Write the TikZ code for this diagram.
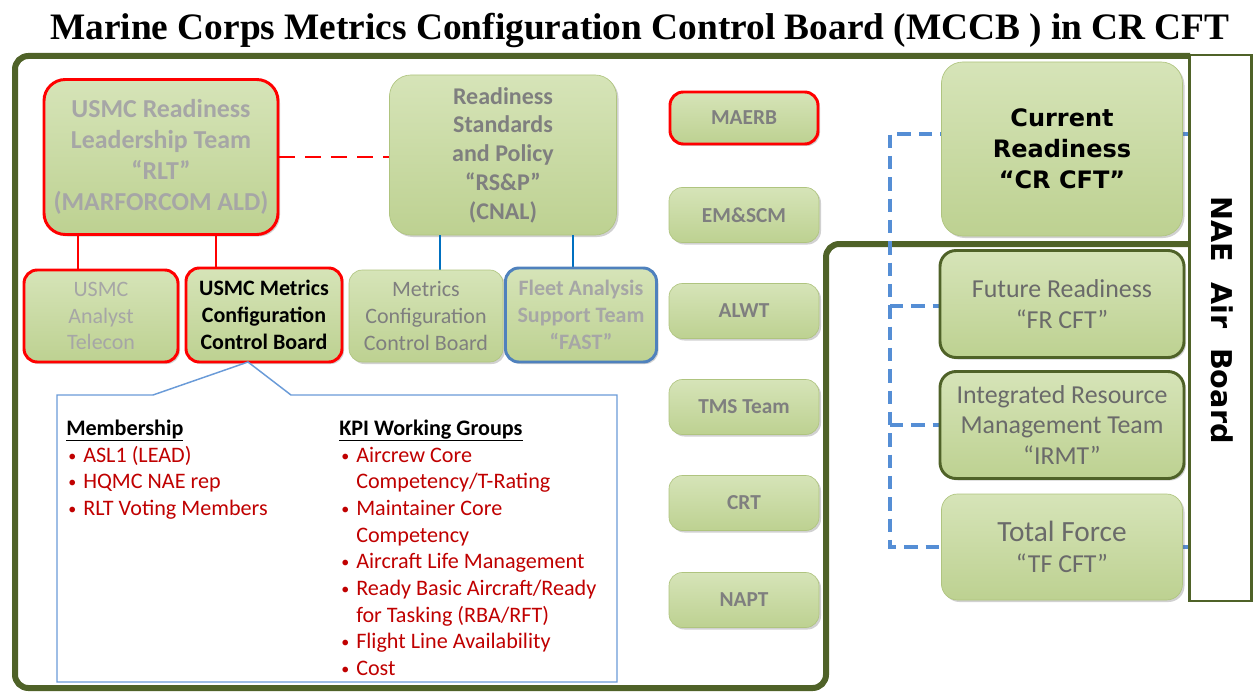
\documentclass[tikz,border=0pt]{standalone}
\usepackage{fontspec}
\setmainfont{Carlito}
\newfontfamily\titlefont{Liberation Serif}
\newfontfamily\heavyfont{DejaVu Sans}
\usetikzlibrary{shadows}
\definecolor{frameolive}{HTML}{4F6228}
\definecolor{gtop}{HTML}{D6E4B8}
\definecolor{gbot}{HTML}{BDD191}
\definecolor{gedge}{HTML}{AFC47F}
\definecolor{boxred}{HTML}{FF0000}
\definecolor{fastblue}{HTML}{4F81BD}
\definecolor{lineblue}{HTML}{0070C0}
\definecolor{dashblue}{HTML}{558ED5}
\definecolor{callblue}{HTML}{6A9BD8}
\definecolor{txtred}{HTML}{C00000}
\definecolor{lightgray}{HTML}{A6A6A6}
\definecolor{midgray}{HTML}{7F7F7F}
\definecolor{darkgray}{HTML}{6A6A6A}
\begin{document}
\begin{tikzpicture}[x=0.75pt,y=-0.75pt,
  sz/.style 2 args={minimum width=#1*0.75pt, minimum height=#2*0.75pt},
  box/.style={draw=gedge, line width=0.5pt, top color=gtop, bottom color=gbot,
    rounded corners=10pt, align=center, inner sep=0pt,
    drop shadow={shadow xshift=1.5pt, shadow yshift=-1.5pt, opacity=0.3, fill=black!60}},
  redbox/.style={box, draw=boxred, line width=2.2pt},
  bluebox/.style={box, draw=fastblue, line width=2.2pt},
  olivebox/.style={box, draw=frameolive, line width=2.2pt},
  bigtext/.style={font=\bfseries\fontsize{19.4}{23.2}\selectfont},
  rsptext/.style={font=\bfseries\fontsize{18}{21.6}\selectfont},
  midtext/.style={font=\fontsize{16.5}{20.2}\selectfont},
  midbold/.style={font=\bfseries\fontsize{16.5}{20.2}\selectfont},
  smalltext/.style={font=\bfseries\fontsize{16}{19}\selectfont, text=midgray},
  righttext/.style={font=\fontsize{19.4}{23.2}\selectfont, text=darkgray},
  ctext/.style={font=\fontsize{16.6}{20}\selectfont, text=txtred, inner sep=0pt},
  cbul/.style={font=\fontsize{12}{20}\selectfont, text=txtred, inner sep=0pt},
  chead/.style={font=\bfseries\fontsize{16.6}{20}\selectfont, inner sep=0pt},
  reddash/.style={draw=boxred, line width=2.2pt, dash pattern=on 12pt off 7.5pt},
  redline/.style={draw=boxred, line width=2.2pt},
  blueline/.style={draw=lineblue, line width=2.2pt},
  bluedash/.style={draw=dashblue, line width=2.4pt, dash pattern=on 10pt off 6pt},
  frame/.style={draw=frameolive, line width=4.5pt, rounded corners=10pt}]
\useasboundingbox (0,0) rectangle (1254,692);

% title
\node[font=\titlefont\bfseries\fontsize{28}{34}\selectfont] (title) at (640,30)
  {Marine Corps Metrics Configuration Control Board (MCCB ) in CR CFT};

% outer frame
\draw[frame] (1190,56) -- (15,56) -- (15,688) -- (826,688) -- (826,244) -- (1190,244);

% NAE Air Board
\node[draw=frameolive, line width=2.2pt, fill=white, sz={62}{546}, inner sep=0pt] (nae) at (1220.5,328) {};
\node[rotate=-90, font=\heavyfont\bfseries\fontsize{21.5}{26}\selectfont] (naetext) at (1222,320) {NAE\ \ Air\ \ Board};

% dashed connectors on the right (drawn first, boxes cover them)
\coordinate (j1) at (890,134);
\coordinate (j2) at (890,306);
\coordinate (j3) at (890,425);
\coordinate (j4) at (890,547);
\draw[bluedash] (j1 -| nae.west) -- (j1) -- (j4) -- (j4 -| nae.west);
\draw[bluedash] (j2) -- (j2 -| nae.west);
\draw[bluedash] (j3) -- (j3 -| nae.west);

% top-left boxes
\node[redbox, sz={234}{155}, rounded corners=16pt, bigtext, text=lightgray] (rlt) at (161,157)
  {USMC Readiness\\Leadership Team\\“RLT”\\(MARFORCOM ALD)};
\node[box, sz={227}{160}, rounded corners=16pt, rsptext, text=midgray] (rsp) at (503,155)
  {Readiness\\Standards\\and Policy\\“RS\&P”\\(CNAL)};

% connectors
\draw[reddash] (rlt.east) -- (rlt.east -| rsp.west);
\coordinate (r1) at (78,0);
\coordinate (r2) at (216,0);
\coordinate (b1) at (440,0);
\coordinate (b2) at (573,0);
\draw[redline] (rlt.south -| r1) -- (r1 |- 0,270);
\draw[redline] (rlt.south -| r2) -- (r2 |- 0,268);
\draw[blueline] (rsp.south -| b1) -- (b1 |- 0,270);
\draw[blueline] (rsp.south -| b2) -- (b2 |- 0,268);

% bottom row
\node[redbox, sz={154}{92}, midtext, text=lightgray] (uat) at (101,316) {USMC\\Analyst\\Telecon};
\node[redbox, sz={156}{94}, midbold, text=black] (umccb) at (264,315) {USMC Metrics\\Configuration\\Control Board};
\node[box, sz={154}{92}, midtext, text=midgray] (mccb) at (426,316) {Metrics\\Configuration\\Control Board};
\node[bluebox, sz={151}{94}, midbold, text=lightgray] (fast) at (581,315) {Fleet Analysis\\Support Team\\“FAST”};

% callout
\coordinate (tip) at (248,362);
\draw[draw=callblue, line width=1.1pt, fill=white]
  (57,395) -- (153,395) -- (tip) -- (291,395) -- (617,395) -- (617,682) -- (57,682) -- cycle;

\node[chead, anchor=base west] (memh) at (66,435) {\underline{Membership}};
\node[cbul, anchor=base west] (mb1) at (68,461) {•};
\node[ctext, anchor=base west] (mt1) at (83,462) {ASL1 (LEAD)};
\node[cbul, anchor=base west] (mb2) at (68,487.5) {•};
\node[ctext, anchor=base west] (mt2) at (83,488.5) {HQMC NAE rep};
\node[cbul, anchor=base west] (mb3) at (68,514) {•};
\node[ctext, anchor=base west] (mt3) at (83,515) {RLT Voting Members};

\node[chead, anchor=base west] (kpih) at (339,435) {\underline{KPI Working Groups}};
\node[cbul, anchor=base west] (kb1) at (341,461) {•};
\node[ctext, anchor=base west] (kt1) at (356,462) {Aircrew Core};
\node[ctext, anchor=base west] (kt2) at (356,488.5) {Competency/T-Rating};
\node[cbul, anchor=base west] (kb3) at (341,514) {•};
\node[ctext, anchor=base west] (kt3) at (356,515) {Maintainer Core};
\node[ctext, anchor=base west] (kt4) at (356,542) {Competency};
\node[cbul, anchor=base west] (kb5) at (341,567.5) {•};
\node[ctext, anchor=base west] (kt5) at (356,568.5) {Aircraft Life Management};
\node[cbul, anchor=base west] (kb6) at (341,594) {•};
\node[ctext, anchor=base west] (kt6) at (356,595) {Ready Basic Aircraft/Ready};
\node[ctext, anchor=base west] (kt7) at (356,622) {for Tasking (RBA/RFT)};
\node[cbul, anchor=base west] (kb8) at (341,647) {•};
\node[ctext, anchor=base west] (kt8) at (356,648) {Flight Line Availability};
\node[cbul, anchor=base west] (kb9) at (341,674) {•};
\node[ctext, anchor=base west] (kt9) at (356,675) {Cost};

% middle column
\node[redbox, sz={148}{52}, smalltext] (maerb) at (744,118) {MAERB};
\node[box, sz={150}{55}, smalltext] (emscm) at (744,215) {EM\&SCM};
\node[box, sz={150}{55}, smalltext] (alwt) at (744,311) {ALWT};
\node[box, sz={150}{55}, smalltext] (tms) at (744,407) {TMS Team};
\node[box, sz={150}{55}, smalltext] (crt) at (744,503) {CRT};
\node[box, sz={150}{55}, smalltext] (napt) at (744,600) {NAPT};

% right column
\node[box, sz={241}{174}, rounded corners=16pt, font=\heavyfont\bfseries\fontsize{18}{23.2}\selectfont] (cr) at (1062,149)
  {Current\\Readiness\\“CR CFT”};
\node[olivebox, sz={244}{107}, rounded corners=12pt, righttext] (fr) at (1062,304) {Future Readiness\\“FR CFT”};
\node[olivebox, sz={244}{107}, rounded corners=12pt, righttext] (irmt) at (1062,425) {Integrated Resource\\Management Team\\“IRMT”};
\node[box, sz={241}{106}, rounded corners=12pt, righttext] (tf) at (1062,547)
  {{\fontsize{22}{26}\selectfont Total Force}\\“TF CFT”};
\end{tikzpicture}
\end{document}
